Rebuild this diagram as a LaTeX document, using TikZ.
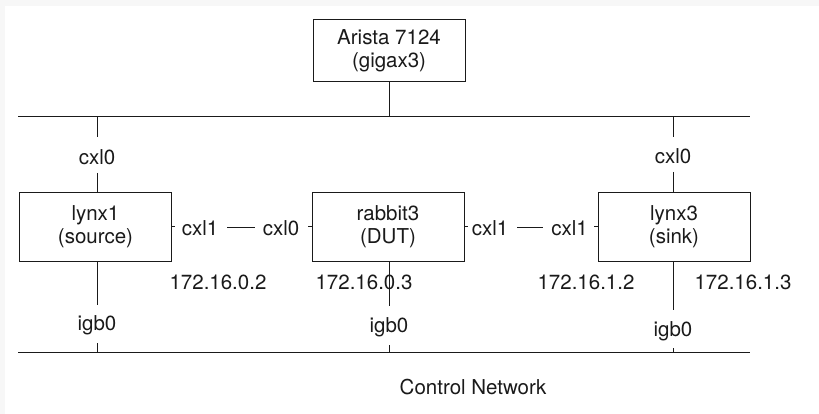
\documentclass[tikz,border=0pt]{standalone}
\usepackage{fontspec}
\setmainfont{TeX Gyre Heros}
\definecolor{pagegray}{HTML}{F7F7F7}
\definecolor{ink}{HTML}{1A1A1A}
\begin{document}
\begin{tikzpicture}[x=1pt,y=-1pt,
  every node/.style={font=\fontsize{20.5}{23}\selectfont, text=ink},
  hostbox/.style={draw=ink, line width=1pt, rectangle, align=center,
    minimum width=152pt, minimum height=68pt, inner sep=0pt},
  switchbox/.style={hostbox, minimum height=62pt},
  lbl/.style={inner sep=0pt, anchor=center},
  wire/.style={draw=ink, line width=1pt}
]
% page and frame
\fill[pagegray] (0,0) rectangle (819,414);
\fill[white] (5,6) rectangle (819,414);
\useasboundingbox (0,0) rectangle (819,414);

% devices
\node[switchbox] (arista) at (389,51) {Arista 7124\\(gigax3)};
\node[hostbox] (lynx1)   at (95.5,227) {lynx1\\(source)};
\node[hostbox] (rabbit3) at (388,227) {rabbit3\\(DUT)};
\node[hostbox] (lynx3)   at (674,227) {lynx3\\(sink)};

% upper (data) bus
\coordinate (topL) at (18,117);
\coordinate (topR) at (750,117);
\draw[wire] (topL) -- (topR);
\draw[wire] (arista.south) -- (arista.south |- topL);

% lynx1 cxl0 drop
\coordinate (l1top) at (97,117);
\node[lbl] (l1cxl0) at (97,157) {cxl0};
\coordinate (l1tA) at (97,137);
\coordinate (l1tB) at (97,173);
\draw[wire] (l1top) -- (l1tA);
\draw[wire] (l1tB) -- (l1tB |- lynx1.north);

% lynx3 cxl0 drop
\coordinate (l3top) at (673,117);
\node[lbl] (l3cxl0) at (673,156) {cxl0};
\coordinate (l3tA) at (673,137);
\coordinate (l3tB) at (673,172);
\draw[wire] (l3top) -- (l3tA);
\draw[wire] (l3tB) -- (l3tB |- lynx3.north);

% lynx1 <-> rabbit3 link
\node[lbl] (l1cxl1) at (200,228) {cxl1};
\node[lbl] (r3cxl0) at (281,228) {cxl0};
\draw[wire] (lynx1.east) -- ++(3,0);
\draw[wire] ([xshift=9pt]l1cxl1.east) -- ([xshift=-8pt]r3cxl0.west);
\draw[wire] (rabbit3.west) -- ++(-4,0);

% rabbit3 <-> lynx3 link
\node[lbl] (r3cxl1) at (490,228) {cxl1};
\node[lbl] (l3cxl1) at (569.5,228) {cxl1};
\draw[wire] (rabbit3.east) -- ++(3,0);
\draw[wire] ([xshift=9pt]r3cxl1.east) -- ([xshift=-8pt]l3cxl1.west);
\draw[wire] (lynx3.west) -- ++(-4,0);

% addresses
\node[lbl] (ip02) at (218,282) {172.16.0.2};
\node[lbl] (ip03) at (364,282) {172.16.0.3};
\node[lbl] (ip12) at (586,282) {172.16.1.2};
\node[lbl] (ip13) at (743,282) {172.16.1.3};

% lower (control) bus
\coordinate (botL) at (18,352);
\coordinate (botR) at (750,352);
\draw[wire] (botL) -- (botR);

% lynx1 igb0
\coordinate (l1bA) at (97,305);
\coordinate (l1bB) at (97,343);
\node[lbl] (l1igb) at (97,325) {igb0};
\draw[wire] (l1bA |- lynx1.south) -- (l1bA);
\draw[wire] (l1bB) -- (l1bB |- botL);

% rabbit3 igb0
\coordinate (r3bA) at (389,306);
\coordinate (r3bB) at (389,345);
\node[lbl] (r3igb) at (389,327) {igb0};
\draw[wire] (r3bA |- rabbit3.south) -- (r3bA);
\draw[wire] (r3bB) -- (r3bB |- botL);

% lynx3 igb0
\coordinate (l3bA) at (673,310);
\coordinate (l3bB) at (673,348);
\node[lbl] (l3igb) at (673,331) {igb0};
\draw[wire] (l3bA |- lynx3.south) -- (l3bA);
\draw[wire] (l3bB) -- (l3bB |- botL);

\node[lbl] (ctrl) at (473,387) {Control Network};
\end{tikzpicture}
\end{document}
